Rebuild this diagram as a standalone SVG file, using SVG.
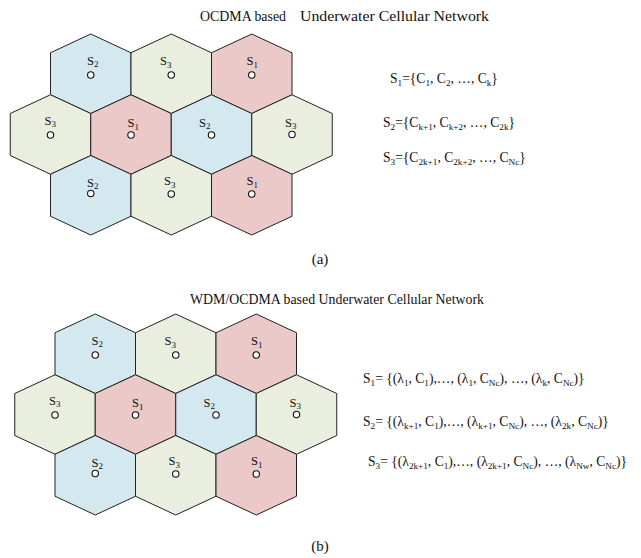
<svg xmlns="http://www.w3.org/2000/svg" width="641" height="558" viewBox="0 0 641 558">
<style>
  text { font-family: "Liberation Serif", "Times New Roman", serif; fill: #111; }
  .hex { stroke: #222; stroke-width: 1; stroke-linejoin: miter; }
  .s1 { fill: #ebc9c9; }
  .s2 { fill: #d3e9ef; }
  .s3 { fill: #e9eedf; }
  .bs { fill: #fff; stroke: #111; stroke-width: 1.1; }
  .lab { font-size: 12.5px; }
  .lsub { font-size: 9px; }
  .title { font-size: 13.8px; }
  .title1 { font-size: 14.2px; }
  .eq { font-size: 13.6px; }
  .sub { font-size: 9.2px; }
  .cap { font-size: 15px; }
</style>
<rect width="641" height="558" fill="#fff"/>

<text class="title1" x="200" y="21"><tspan textLength="86" lengthAdjust="spacingAndGlyphs">OCDMA based</tspan><tspan x="300" textLength="189" lengthAdjust="spacingAndGlyphs">Underwater Cellular Network</tspan></text>

<g id="gridA">
  <g id="a-h1"><polygon class="hex s2" points="90.75,34 131,52.75 131,94.75 90.75,113.5 50.5,94.75 50.5,52.75"/><text class="lab" x="87" y="64.5">S<tspan class="lsub" dy="2.5">2</tspan></text><circle class="bs" cx="90.75" cy="75" r="3.2"/></g>
  <g id="a-h2"><polygon class="hex s3" points="171.25,34 211.5,52.75 211.5,94.75 171.25,113.5 131,94.75 131,52.75"/><text class="lab" x="160" y="65">S<tspan class="lsub" dy="2.5">3</tspan></text><circle class="bs" cx="171.25" cy="75" r="3.2"/></g>
  <g id="a-h3"><polygon class="hex s1" points="251.75,34 292,52.75 292,94.75 251.75,113.5 211.5,94.75 211.5,52.75"/><text class="lab" x="246.5" y="65">S<tspan class="lsub" dy="2.5">1</tspan></text><circle class="bs" cx="251.75" cy="75" r="3.2"/></g>
  <g id="a-h4"><polygon class="hex s3" points="50.5,94.75 90.75,113.5 90.75,155.5 50.5,174.25 10.25,155.5 10.25,113.5"/><text class="lab" x="44.5" y="124.5">S<tspan class="lsub" dy="2.5">3</tspan></text><circle class="bs" cx="50.5" cy="135" r="3.2"/></g>
  <g id="a-h5"><polygon class="hex s1" points="131,94.75 171.25,113.5 171.25,155.5 131,174.25 90.75,155.5 90.75,113.5"/><text class="lab" x="127.5" y="127">S<tspan class="lsub" dy="2.5">1</tspan></text><circle class="bs" cx="131" cy="135" r="3.2"/></g>
  <g id="a-h6"><polygon class="hex s2" points="211.5,94.75 251.75,113.5 251.75,155.5 211.5,174.25 171.25,155.5 171.25,113.5"/><text class="lab" x="199" y="126.5">S<tspan class="lsub" dy="2.5">2</tspan></text><circle class="bs" cx="211.5" cy="135" r="3.2"/></g>
  <g id="a-h7"><polygon class="hex s3" points="292,94.75 332.25,113.5 332.25,155.5 292,174.25 251.75,155.5 251.75,113.5"/><text class="lab" x="285" y="126.5">S<tspan class="lsub" dy="2.5">3</tspan></text><circle class="bs" cx="292" cy="134.5" r="3.2"/></g>
  <g id="a-h8"><polygon class="hex s2" points="90.75,155.5 131,174.25 131,216.25 90.75,235 50.5,216.25 50.5,174.25"/><text class="lab" x="87" y="186.5">S<tspan class="lsub" dy="2.5">2</tspan></text><circle class="bs" cx="90.75" cy="193.5" r="3.2"/></g>
  <g id="a-h9"><polygon class="hex s3" points="171.25,155.5 211.5,174.25 211.5,216.25 171.25,235 131,216.25 131,174.25"/><text class="lab" x="164" y="185">S<tspan class="lsub" dy="2.5">3</tspan></text><circle class="bs" cx="171.25" cy="194" r="3.2"/></g>
  <g id="a-h10"><polygon class="hex s1" points="251.75,155.5 292,174.25 292,216.25 251.75,235 211.5,216.25 211.5,174.25"/><text class="lab" x="246.5" y="185">S<tspan class="lsub" dy="2.5">1</tspan></text><circle class="bs" cx="251.75" cy="194" r="3.2"/></g>
</g>
<g id="connectors"></g>

<g id="eqA">
  <text class="eq" x="390" y="83">S<tspan class="sub" dy="3">1</tspan><tspan dy="-3">={C</tspan><tspan class="sub" dy="3">1</tspan><tspan dy="-3">, C</tspan><tspan class="sub" dy="3">2</tspan><tspan dy="-3">, …, C</tspan><tspan class="sub" dy="3">k</tspan><tspan dy="-3">}</tspan></text>
  <text class="eq" x="383" y="127">S<tspan class="sub" dy="3">2</tspan><tspan dy="-3">={C</tspan><tspan class="sub" dy="3">k+1</tspan><tspan dy="-3">, C</tspan><tspan class="sub" dy="3">k+2</tspan><tspan dy="-3">, …, C</tspan><tspan class="sub" dy="3">2k</tspan><tspan dy="-3">}</tspan></text>
  <text class="eq" x="383" y="162">S<tspan class="sub" dy="3">3</tspan><tspan dy="-3">={C</tspan><tspan class="sub" dy="3">2k+1</tspan><tspan dy="-3">, C</tspan><tspan class="sub" dy="3">2k+2</tspan><tspan dy="-3">, …, C</tspan><tspan class="sub" dy="3">Nc</tspan><tspan dy="-3">}</tspan></text>
</g>

<text class="cap" x="320" y="264" text-anchor="middle">(a)</text>

<text class="title" x="190" y="304" textLength="294" lengthAdjust="spacingAndGlyphs">WDM/OCDMA based Underwater Cellular Network</text>

<g id="gridB" transform="translate(4.5,280)">
  <g id="b-h1"><polygon class="hex s2" points="90.75,34 131,52.75 131,94.75 90.75,113.5 50.5,94.75 50.5,52.75"/><text class="lab" x="87" y="64.5">S<tspan class="lsub" dy="2.5">2</tspan></text><circle class="bs" cx="90.75" cy="75" r="3.2"/></g>
  <g id="b-h2"><polygon class="hex s3" points="171.25,34 211.5,52.75 211.5,94.75 171.25,113.5 131,94.75 131,52.75"/><text class="lab" x="160" y="65">S<tspan class="lsub" dy="2.5">3</tspan></text><circle class="bs" cx="171.25" cy="75" r="3.2"/></g>
  <g id="b-h3"><polygon class="hex s1" points="251.75,34 292,52.75 292,94.75 251.75,113.5 211.5,94.75 211.5,52.75"/><text class="lab" x="246.5" y="65">S<tspan class="lsub" dy="2.5">1</tspan></text><circle class="bs" cx="251.75" cy="75" r="3.2"/></g>
  <g id="b-h4"><polygon class="hex s3" points="50.5,94.75 90.75,113.5 90.75,155.5 50.5,174.25 10.25,155.5 10.25,113.5"/><text class="lab" x="44.5" y="124.5">S<tspan class="lsub" dy="2.5">3</tspan></text><circle class="bs" cx="50.5" cy="135" r="3.2"/></g>
  <g id="b-h5"><polygon class="hex s1" points="131,94.75 171.25,113.5 171.25,155.5 131,174.25 90.75,155.5 90.75,113.5"/><text class="lab" x="127.5" y="127">S<tspan class="lsub" dy="2.5">1</tspan></text><circle class="bs" cx="131" cy="135" r="3.2"/></g>
  <g id="b-h6"><polygon class="hex s2" points="211.5,94.75 251.75,113.5 251.75,155.5 211.5,174.25 171.25,155.5 171.25,113.5"/><text class="lab" x="199" y="126.5">S<tspan class="lsub" dy="2.5">2</tspan></text><circle class="bs" cx="211.5" cy="135" r="3.2"/></g>
  <g id="b-h7"><polygon class="hex s3" points="292,94.75 332.25,113.5 332.25,155.5 292,174.25 251.75,155.5 251.75,113.5"/><text class="lab" x="285" y="126.5">S<tspan class="lsub" dy="2.5">3</tspan></text><circle class="bs" cx="292" cy="134.5" r="3.2"/></g>
  <g id="b-h8"><polygon class="hex s2" points="90.75,155.5 131,174.25 131,216.25 90.75,235 50.5,216.25 50.5,174.25"/><text class="lab" x="87" y="186.5">S<tspan class="lsub" dy="2.5">2</tspan></text><circle class="bs" cx="90.75" cy="193.5" r="3.2"/></g>
  <g id="b-h9"><polygon class="hex s3" points="171.25,155.5 211.5,174.25 211.5,216.25 171.25,235 131,216.25 131,174.25"/><text class="lab" x="164" y="185">S<tspan class="lsub" dy="2.5">3</tspan></text><circle class="bs" cx="171.25" cy="194" r="3.2"/></g>
  <g id="b-h10"><polygon class="hex s1" points="251.75,155.5 292,174.25 292,216.25 251.75,235 211.5,216.25 211.5,174.25"/><text class="lab" x="246.5" y="185">S<tspan class="lsub" dy="2.5">1</tspan></text><circle class="bs" cx="251.75" cy="194" r="3.2"/></g>
</g>

<g id="eqB">
  <text class="eq" x="363" y="383">S<tspan class="sub" dy="3">1</tspan><tspan dy="-3">= {(λ</tspan><tspan class="sub" dy="3">1</tspan><tspan dy="-3">, C</tspan><tspan class="sub" dy="3">1</tspan><tspan dy="-3">),…, (λ</tspan><tspan class="sub" dy="3">1</tspan><tspan dy="-3">, C</tspan><tspan class="sub" dy="3">Nc</tspan><tspan dy="-3">), …, (λ</tspan><tspan class="sub" dy="3">k</tspan><tspan dy="-3">, C</tspan><tspan class="sub" dy="3">Nc</tspan><tspan dy="-3">)}</tspan></text>
  <text class="eq" x="363" y="426">S<tspan class="sub" dy="3">2</tspan><tspan dy="-3">= {(λ</tspan><tspan class="sub" dy="3">k+1</tspan><tspan dy="-3">, C</tspan><tspan class="sub" dy="3">1</tspan><tspan dy="-3">),…, (λ</tspan><tspan class="sub" dy="3">k+1</tspan><tspan dy="-3">, C</tspan><tspan class="sub" dy="3">Nc</tspan><tspan dy="-3">), …, (λ</tspan><tspan class="sub" dy="3">2k</tspan><tspan dy="-3">, C</tspan><tspan class="sub" dy="3">Nc</tspan><tspan dy="-3">)}</tspan></text>
  <text class="eq" x="368" y="466">S<tspan class="sub" dy="3">3</tspan><tspan dy="-3">= {(λ</tspan><tspan class="sub" dy="3">2k+1</tspan><tspan dy="-3">, C</tspan><tspan class="sub" dy="3">1</tspan><tspan dy="-3">),…, (λ</tspan><tspan class="sub" dy="3">2k+1</tspan><tspan dy="-3">, C</tspan><tspan class="sub" dy="3">Nc</tspan><tspan dy="-3">), …, (λ</tspan><tspan class="sub" dy="3">Nw</tspan><tspan dy="-3">, C</tspan><tspan class="sub" dy="3">Nc</tspan><tspan dy="-3">)}</tspan></text>
</g>

<text class="cap" x="320" y="551" text-anchor="middle">(b)</text>
</svg>
